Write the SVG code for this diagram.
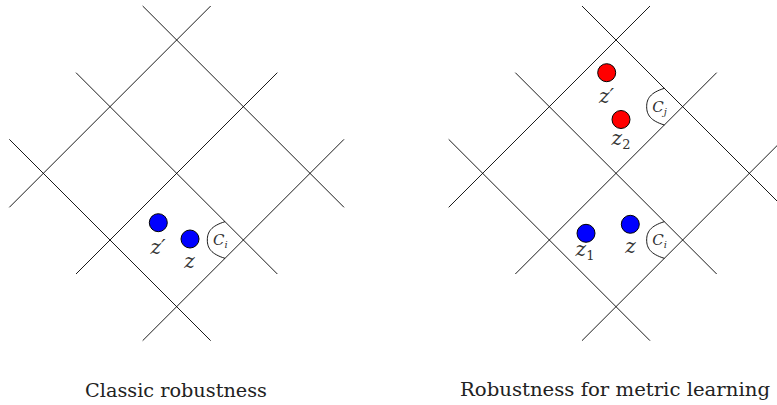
<svg xmlns="http://www.w3.org/2000/svg" xmlns:xlink="http://www.w3.org/1999/xlink" width="777" height="405" viewBox="0 0 777 405">
<style>
.grid line{stroke:#000;stroke-width:0.9;fill:none}
.cell{stroke:#000;stroke-width:0.9;fill:none}
.blue{fill:#0000ff;stroke:#000;stroke-width:1}
.red{fill:#ff0000;stroke:#000;stroke-width:1}
.lab{font-family:"DejaVu Serif",serif;font-style:italic;font-size:20px;fill:#333;text-anchor:middle}
.sub{font-style:normal;font-size:13px}
.clab{font-family:"DejaVu Serif",serif;font-style:italic;font-size:15px;fill:#333}
.csub{font-size:10px}
.cap{font-family:"DejaVu Serif",serif;font-size:19px;fill:#222}
</style>
<defs>
<g id="grid" class="grid">
<line x1="142.67" y1="6" x2="344" y2="207.33"/>
<line x1="76" y1="72.67" x2="277.33" y2="274"/>
<line x1="9.33" y1="139.33" x2="210.67" y2="340.67"/>
<line x1="9.33" y1="207.33" x2="210.67" y2="6"/>
<line x1="76" y1="274" x2="277.33" y2="72.67"/>
<line x1="142.67" y1="340.67" x2="344" y2="139.33"/>
</g>
</defs>
<g id="connectors">
<use xlink:href="#grid" href="#grid"/>
<use xlink:href="#grid" href="#grid" transform="translate(439.33,0)"/>
</g>
<g id="left-Ci">
<path class="cell" d="M225,221.67 C211,226 207.33,232 207.33,240 C207.33,248 211,254 225,258.33"/>
<text class="clab" x="213" y="245">C<tspan class="csub" dy="3">i</tspan></text>
</g>
<g id="left-zprime">
<circle class="blue" cx="158.3" cy="222.7" r="9"/>
<text class="lab" x="158" y="254">z′</text>
</g>
<g id="left-z">
<circle class="blue" cx="190" cy="239" r="9"/>
<text class="lab" x="189.5" y="268">z</text>
</g>
<g id="right-Cj">
<path class="cell" d="M664.33,88.33 C650.33,92.67 646.67,98.67 646.67,106.67 C646.67,114.67 650.33,120.67 664.33,125"/>
<text class="clab" x="652.3" y="111.67">C<tspan class="csub" dy="3">j</tspan></text>
</g>
<g id="right-Ci">
<path class="cell" d="M664.33,221.67 C650.33,226 646.67,232 646.67,240 C646.67,248 650.33,254 664.33,258.33"/>
<text class="clab" x="652.3" y="245">C<tspan class="csub" dy="3">i</tspan></text>
</g>
<g id="right-zprime">
<circle class="red" cx="606.7" cy="72.7" r="9"/>
<text class="lab" x="606.5" y="103">z′</text>
</g>
<g id="right-z2">
<circle class="red" cx="621" cy="119.5" r="9"/>
<text class="lab" x="621" y="145">z<tspan class="sub" dy="4">2</tspan></text>
</g>
<g id="right-z1">
<circle class="blue" cx="586" cy="233.3" r="9"/>
<text class="lab" x="585" y="256">z<tspan class="sub" dy="4">1</tspan></text>
</g>
<g id="right-z">
<circle class="blue" cx="630.3" cy="224.3" r="9"/>
<text class="lab" x="630.5" y="253">z</text>
</g>
<g id="captions">
<text class="cap" x="85" y="396.5" textLength="182" lengthAdjust="spacingAndGlyphs">Classic robustness</text>
<text class="cap" x="460" y="396" textLength="310" lengthAdjust="spacingAndGlyphs">Robustness for metric learning</text>
</g>
</svg>
